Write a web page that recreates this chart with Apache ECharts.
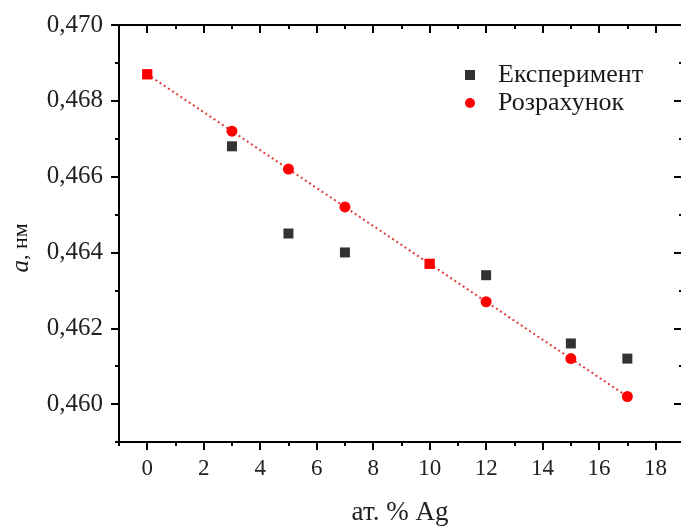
<!DOCTYPE html>
<html><head><meta charset="utf-8">
<script src="https://cdn.jsdelivr.net/npm/echarts@6/dist/echarts.min.js"></script>
<style>html,body{margin:0;padding:0;background:#fff}#c{width:681px;height:527px}</style>
</head><body><div id="c"></div>
<script>
const xExp = [0, 3, 5, 7, 10, 12, 15, 17];
const yExp = [0.4687, 0.4668, 0.4645, 0.4640, 0.4637, 0.4634, 0.4616, 0.4612];
const xCalc = [0, 3, 5, 7, 10, 12, 15, 17];
const yCalc = [0.4687, 0.4672, 0.4662, 0.4652, 0.4637, 0.4627, 0.4612, 0.4602];
const sharedX = [0, 10];
const xMajor = [0, 2, 4, 6, 8, 10, 12, 14, 16, 18];
const xMinor = [-1, 1, 3, 5, 7, 9, 11, 13, 15, 17];
const yMajor = [0.460, 0.462, 0.464, 0.466, 0.468, 0.470];
const yMinor = [0.459, 0.461, 0.463, 0.465, 0.467, 0.469];
const expName = 'Експеримент';
const calcName = 'Розрахунок';

const F = 'Liberation Serif';
const XMIN = -1, XMAX = 18.9, YMIN = 0.459, YMAX = 0.470;
const chart = echarts.init(document.getElementById('c'));
const expData = xExp.map((x, i) => sharedX.includes(x)
  ? {value: [x, yExp[i]], itemStyle: {color: '#ff0000'}}
  : [x, yExp[i]]);
const calcData = xCalc.map((x, i) => sharedX.includes(x)
  ? {value: [x, yCalc[i]], symbol: 'rect', symbolSize: 10}
  : [x, yCalc[i]]);
const tickStyle = {width: 2, color: '#000'};
function ax(o) {
  return Object.assign({
    type: 'value', splitLine: {show: false}, axisLabel: {show: false},
    axisLine: {show: false, onZero: false, lineStyle: {color: '#000', width: 2}}
  }, o);
}
chart.setOption({
  animation: false,
  grid: {left: 119, top: 25, right: 0, bottom: 85, containLabel: false, outerBoundsMode: 'none'},
  legend: {
    left: 460, top: 57, orient: 'vertical', itemGap: 2,
    itemWidth: 10, itemHeight: 10,
    textStyle: {fontFamily: F, fontSize: 26, color: '#1a1a1a', padding: [0, 0, 0, 18]},
    data: [{name: expName, icon: 'rect'}, {name: calcName, icon: 'circle'}]
  },
  graphic: [{
    type: 'text', x: 21, y: 248, rotation: Math.PI / 2,
    style: {
      text: '{i|a}, нм', fill: '#111', font: '22px "Liberation Serif"',
      align: 'center', verticalAlign: 'middle',
      rich: {i: {fontFamily: F, fontStyle: 'italic', fontSize: 25, fill: '#111'}}
    }
  }],
  xAxis: [
    ax({
      min: XMIN, max: XMAX, position: 'bottom',
      axisLine: {show: true, onZero: false, lineStyle: {color: '#000', width: 2}},
      axisTick: {show: true, length: 8, lineStyle: tickStyle, customValues: xMajor},
      axisLabel: {show: true, fontFamily: F, fontSize: 23, color: '#222', margin: 15, customValues: xMajor},
      name: 'ат. % Ag', nameLocation: 'middle', nameGap: 57,
      nameTextStyle: {fontFamily: F, fontSize: 27, color: '#222'}
    }),
    ax({min: XMIN, max: XMAX, position: 'bottom',
      axisTick: {show: true, length: 4, lineStyle: tickStyle, customValues: xMinor}}),
    ax({
      min: XMIN, max: XMAX, position: 'top',
      axisLine: {show: true, onZero: false, lineStyle: {color: '#000', width: 2}},
      axisTick: {show: true, inside: true, length: 8, lineStyle: tickStyle, customValues: xMajor}
    }),
    ax({min: XMIN, max: XMAX, position: 'top',
      axisTick: {show: true, inside: true, length: 4, lineStyle: tickStyle, customValues: xMinor}})
  ],
  yAxis: [
    ax({
      min: YMIN, max: YMAX, position: 'left',
      axisLine: {show: true, onZero: false, lineStyle: {color: '#000', width: 2}},
      axisTick: {show: true, length: 8, lineStyle: tickStyle, customValues: yMajor},
      axisLabel: {show: true, fontFamily: F, fontSize: 25, color: '#222', margin: 16,
        customValues: yMajor, formatter: v => v.toFixed(3).replace('.', ',')}
    }),
    ax({min: YMIN, max: YMAX, position: 'left',
      axisTick: {show: true, length: 4, lineStyle: tickStyle, customValues: yMinor}}),
    ax({min: YMIN, max: YMAX, position: 'right',
      axisTick: {show: true, inside: true, length: 7, lineStyle: tickStyle, customValues: yMajor}}),
    ax({min: YMIN, max: YMAX, position: 'right',
      axisTick: {show: true, inside: true, length: 2, lineStyle: tickStyle, customValues: yMinor}})
  ],
  series: [
    {
      name: expName, type: 'scatter', xAxisIndex: 0, yAxisIndex: 0,
      symbol: 'rect', symbolSize: 10, itemStyle: {color: '#000'}, z: 3,
      data: expData
    },
    {
      name: calcName, type: 'line', xAxisIndex: 0, yAxisIndex: 0,
      symbol: 'circle', symbolSize: 11, showSymbol: true,
      itemStyle: {color: '#ff0000'},
      lineStyle: {color: '#e23a3a', width: 2, type: [2, 3]}, z: 4,
      data: calcData
    }
  ]
});
</script></body></html>
